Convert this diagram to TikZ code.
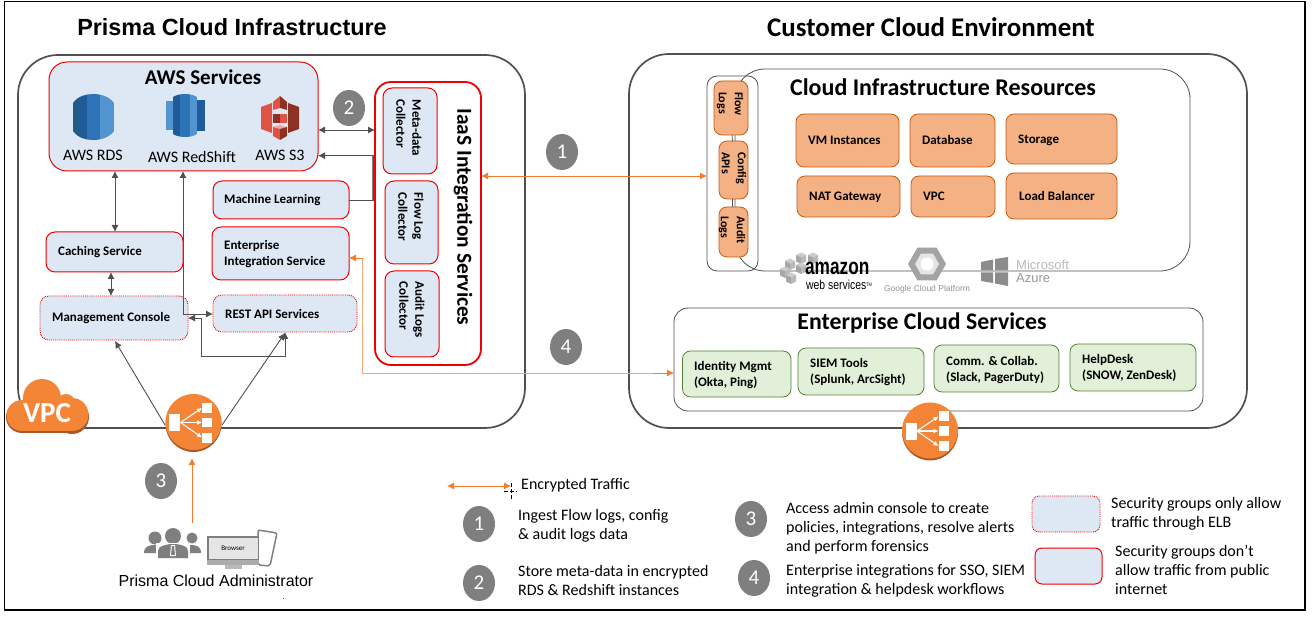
\documentclass[tikz,border=0pt]{standalone}
\usepackage{fontspec}
\setmainfont{Carlito}
\newfontfamily\arialf{Liberation Sans}
\usetikzlibrary{arrows.meta,calc,shapes.geometric}
\definecolor{bluefill}{HTML}{DEE8F4}
\definecolor{redline}{HTML}{F00000}
\definecolor{orfill}{HTML}{F4B183}
\definecolor{orline}{HTML}{C55A11}
\definecolor{grfill}{HTML}{E2EFD9}
\definecolor{grline}{HTML}{548235}
\definecolor{awsor}{HTML}{F58536}
\definecolor{awsdk}{HTML}{A9582A}
\definecolor{arrowor}{HTML}{F47B30}
\definecolor{arrowpale}{HTML}{F6A877}
\definecolor{darkln}{HTML}{505050}
\definecolor{badge}{HTML}{7F7F7F}
\definecolor{bluea}{HTML}{2E73B8}
\definecolor{blueb}{HTML}{1F5B98}
\definecolor{bluec}{HTML}{5294CF}
\definecolor{blued}{HTML}{205B87}
\definecolor{sreda}{HTML}{E05243}
\definecolor{sredb}{HTML}{8C3123}
\definecolor{logogray}{HTML}{8C8C8C}
\tikzset{
 panel/.style={draw=darkln,line width=1.7pt,rounded corners=40,fill=white},
 subpanel/.style={draw=darkln,line width=.8pt},
 svcsolid/.style={draw=redline,line width=1pt,fill=bluefill,rounded corners=9},
 svcdot/.style={draw=redline,line width=.9pt,densely dotted,fill=bluefill,rounded corners=9},
 orbox/.style={draw=orline,line width=.8pt,fill=orfill,rounded corners=8},
 grbox/.style={draw=grline,line width=.8pt,fill=grfill,rounded corners=8},
 lbl/.style={font=\fontsize{13}{16}\selectfont\bfseries,anchor=west,align=left,inner sep=0pt},
 rlbl/.style={font=\fontsize{13}{16}\selectfont\bfseries,align=left,inner sep=0pt,rotate=-90},
 rlbs/.style={font=\fontsize{12}{16}\selectfont\bfseries,align=left,inner sep=0pt,rotate=-90},
 legend/.style={font=\fontsize{16}{19}\selectfont,anchor=west,align=left,inner sep=0pt},
 numb/.style={ellipse,fill=badge,text=white,inner sep=0pt,minimum width=32pt,minimum height=36pt,font=\fontsize{21}{21}\selectfont},
 dk/.style={draw=darkln,line width=.9pt,-{Latex[length=7pt,width=7pt]}},
 dkb/.style={draw=darkln,line width=.9pt,{Latex[length=7pt,width=7pt]}-{Latex[length=7pt,width=7pt]}},
 ora/.style={draw=arrowor,line width=.9pt,{Latex[length=7pt,width=7pt]}-{Latex[length=7pt,width=7pt]}},
 orr/.style={draw=arrowor,line width=.9pt,-{Latex[length=7pt,width=7pt]}},
 elb/.pic={
  \fill[awsdk] (0,1.5) circle[radius=28];
  \fill[awsor] (0,-.5) circle[radius=28];
  \fill[white] (-24.5,-8) rectangle (-13.5,9);
  \fill[white] (8.5,-19.5) rectangle (18.5,-9.5);
  \fill[white] (8.5,-4.5) rectangle (18.5,5);
  \fill[white] (8.5,10.5) rectangle (18.5,20.5);
  \draw[white,line width=1.1pt,-{Latex[length=5pt,width=5pt]}] (-13,0)--(8.5,-14.5);
  \draw[white,line width=1.1pt,-{Latex[length=5pt,width=5pt]}] (-13,0)--(8.5,0);
  \draw[white,line width=1.1pt,-{Latex[length=5pt,width=5pt]}] (-13,0)--(8.5,15);
 },
 cube/.pic={
  \fill[gray!40] (-5,-3) -- (0,-5.5) -- (5,-3) -- (0,-.5) -- cycle;
  \fill[gray!70] (-5,-3) -- (0,-.5) -- (0,6) -- (-5,3.5) -- cycle;
  \fill[gray!55] (5,-3) -- (0,-.5) -- (0,6) -- (5,3.5) -- cycle;
 },
}
\newcommand{\bx}[7]{\node[#1,anchor=north west,inner sep=0pt,outer sep=0pt,minimum width={(#5-#3)*1pt},minimum height={(#6-#4)*1pt}] (#2) at (#3,#4) {#7};}
\begin{document}
\begin{tikzpicture}[x=1pt,y=-1pt]
\useasboundingbox (0,0) rectangle (1315,617);
\fill[white] (0,0) rectangle (1315,617);
\draw[black,line width=1.4pt] (4.5,1.5) rectangle (1305,610);
% titles
\node[font=\arialf\fontsize{23.4}{24}\selectfont\bfseries,inner sep=0pt] (t1) at (232,27) {Prisma Cloud Infrastructure};
\node[font=\fontsize{26.9}{27}\selectfont\bfseries,inner sep=0pt] (t2) at (931,27) {Customer Cloud Environment};
% panels
\bx{panel}{prisma}{18}{55}{525}{428}{}
\bx{panel}{cust}{629}{54}{1247}{428}{}
% AWS services
\bx{svcsolid,rounded corners=18}{aws}{49}{62}{318}{171}{}
\node[font=\fontsize{21}{21}\selectfont\bfseries,inner sep=0pt] (awst) at (203,77) {AWS Services};
% RDS icon
\begin{scope}
\clip (73,103) .. controls (78,96) and (86,94) .. (93,94) .. controls (100,94) and (109,96) .. (114,103) -- (114,131) .. controls (109,138) and (100,140) .. (93,140) .. controls (86,140) and (78,138) .. (73,131) -- cycle;
\fill[blued] (73,94) rectangle (79,140);
\fill[blueb] (79,94) rectangle (87,140);
\fill[bluea] (87,94) rectangle (100,140);
\fill[bluec] (100,94) rectangle (114,140);
\end{scope}
% RedShift icon
\fill[bluec] (166,101) rectangle (173,130);
\fill[blueb] (197,100) rectangle (205,131);
\begin{scope}
\clip (173,97) .. controls (179,93) and (191,93) .. (197,97) -- (197,134) .. controls (191,138) and (179,138) .. (173,134) -- cycle;
\fill[blueb] (173,93) rectangle (180,138);
\fill[bluea] (180,93) rectangle (190,138);
\fill[bluec] (190,93) rectangle (197,138);
\end{scope}
% S3 icon
\fill[sreda] (261,107) -- (272,103) -- (272,133) -- (261,129) -- cycle;
\fill[sredb] (299,107) -- (288,103) -- (288,133) -- (299,129) -- cycle;
\fill[sreda] (273,102) -- (280,96) -- (280,108) -- (273,110) -- cycle;
\fill[sredb] (287,102) -- (280,96) -- (280,108) -- (287,110) -- cycle;
\fill[sredb] (273,114) rectangle (280,123);
\fill[sreda] (280,114) rectangle (287,123);
\fill[sreda!50] (273,127) -- (280,125) -- (287,127) -- (280,129) -- cycle;
\fill[sreda] (273,127) -- (280,129) -- (280,140) -- (273,136) -- cycle;
\fill[sredb] (287,127) -- (280,129) -- (280,140) -- (287,136) -- cycle;
\node[font=\fontsize{16}{16}\selectfont,inner sep=0pt] (lrds) at (93,155) {AWS RDS};
\node[font=\fontsize{16}{16}\selectfont,inner sep=0pt] (lred) at (192,157) {AWS RedShift};
\node[font=\fontsize{16}{16}\selectfont,inner sep=0pt] (ls3) at (280,155) {AWS S3};
% IaaS
\bx{draw=redline,line width=1.8pt,fill=white,rounded corners=16}{iaas}{375}{82}{481}{365}{}
\node[font=\fontsize{21.4}{22}\selectfont\bfseries,rotate=-90,inner sep=0pt] (iaast) at (463,217) {IaaS Integration Services};
\bx{svcsolid}{meta}{383}{88}{437}{174}{}
\bx{svcsolid}{flow}{385}{181}{438}{264}{}
\bx{svcsolid}{audit}{385}{271}{439}{357}{}
\node[rlbl] (metat) at (409,128) {Meta-data\\Collector};
\node[rlbl] (flowt) at (411,217) {Flow Log\\Collector};
\node[rlbl] (auditt) at (412,310) {Audit Logs\\Collector};
% services
\bx{svcsolid}{ml}{213}{181}{349}{219}{}
\node[lbl] (mlt) at (224,200) {Machine Learning};
\bx{svcsolid}{eis}{212}{227}{349}{280}{}
\node[lbl] (eist) at (224,254.5) {Enterprise\\Integration Service};
\bx{svcsolid}{cache}{46}{232}{183}{272}{}
\node[lbl] (cachet) at (58,252) {Caching Service};
\bx{svcdot}{mgmt}{40}{296}{188}{340}{}
\node[lbl] (mgmtt) at (52,318) {Management Console};
\bx{svcdot}{rest}{213}{295}{357}{332}{}
\node[lbl] (restt) at (225,314) {REST API Services};
% helper coordinates
\coordinate (y130) at (0,130);
\coordinate (y156) at (0,155.7);
\coordinate (x373) at (373,0);
\coordinate (x115) at (115,0);
\coordinate (x111) at (111,0);
\coordinate (x183) at (183,0);
\coordinate (x201) at (201,0);
\coordinate (x285) at (285,0);
\coordinate (y356) at (0,356);
\coordinate (y176) at (0,176);
\coordinate (y373) at (0,373);
\coordinate (y258) at (0,258);
\coordinate (x362) at (362.5,0);
% connectors
\draw[dkb] (aws.east |- y130) -- (iaas.west |- y130);
\draw[gray,line width=1.6pt] (x373 |- ml.east) -- (x373 |- y156);
\draw[dk] (ml.east) -- (x373 |- ml.east) -- (x373 |- y156) -- (aws.east |- y156);
\draw[dkb] (x115 |- aws.south) -- (x115 |- cache.north);
\draw[dkb] (x111 |- cache.south) -- (x111 |- mgmt.north);
\draw[dkb] (x183 |- aws.south) -- (x183 |- restt.west) -- (rest.west |- restt.west);
\draw[dkb] (x285 |- rest.south) -- (x285 |- y356) -- (x201 |- y356) -- (x201 |- mgmt.east) -- (mgmt.east);
% cloud resources
\bx{subpanel,rounded corners=30,fill=white}{cir}{735}{69}{1190}{271}{}
\node[font=\fontsize{24}{24}\selectfont\bfseries,inner sep=0pt] (cirt) at (943,87) {Cloud Infrastructure Resources};
\bx{subpanel,rounded corners=10}{logbox}{707}{76}{758}{271}{}
\bx{orbox}{flowl}{714}{81}{748}{135}{}
\bx{orbox}{confl}{719}{141}{748}{199}{}
\bx{orbox}{auditl}{719}{207}{748}{257}{}
\draw[darkln,line width=.7pt] (flowl.south -| logbox.center) ++(-.5,0) -- (confl.north -| logbox.center);
\draw[darkln,line width=.7pt] (confl.south -| logbox.center) -- (auditl.north -| logbox.center);
\node[rlbs] (flowlt) at (730,104) {Flow\\Logs};
\node[rlbs] (conflt) at (734,168) {Config\\APIs};
\node[rlbs] (auditlt) at (732,230) {Audit\\Logs};
\bx{orbox}{vm}{796}{114}{899}{167}{}
\node[lbl] (vmt) at (808,140) {VM Instances};
\bx{orbox}{db}{910}{114}{995}{167}{}
\node[lbl] (dbt) at (922,140) {Database};
\bx{orbox}{sto}{1006}{114}{1117}{164}{}
\node[lbl] (stot) at (1018,140) {Storage};
\bx{orbox}{nat}{797}{176}{900}{217}{}
\node[lbl] (natt) at (809,197) {NAT Gateway};
\bx{orbox}{vpc}{911}{176}{995}{217}{}
\node[lbl] (vpct) at (923,196) {VPC};
\bx{orbox}{lbal}{1006}{173}{1117}{219}{}
\node[lbl] (lbalt) at (1019,196) {Load Balancer};
% logos
\pic at (801,258) {cube};
\pic at (813,258) {cube};
\pic at (790,264) {cube};
\pic at (801,268) {cube};
\pic at (785,272) {cube};
\pic at (791,278) {cube};
\node[font=\arialf\fontsize{23}{23}\selectfont\bfseries,xscale=.75,inner sep=0pt,anchor=west] (amz) at (805,268.5) {amazon};
\node[font=\arialf\fontsize{13}{13}\selectfont,xscale=.8,inner sep=0pt,anchor=west] (amzw) at (806,285) {web services\raisebox{3pt}{\fontsize{5}{5}\selectfont TM}};
\node[regular polygon,regular polygon sides=6,fill=logogray!80,minimum size=38pt,inner sep=0pt] (gcp) at (927,264) {};
\node[regular polygon,regular polygon sides=6,fill=gray!20,minimum size=24pt,inner sep=0pt] (gcpi) at (927,264) {};
\node[circle,fill=white,minimum size=13pt,inner sep=0pt] (gcpc) at (927,264) {};
\node[font=\arialf\fontsize{8.5}{9}\selectfont,text=gray!85,inner sep=0pt] (gcpt) at (927,289) {Google Cloud Platform};
\fill[logogray] (981,262) -- (993,259.5) -- (993,270.5) -- (981,270.5) -- cycle;
\fill[logogray] (995,259) -- (1008,257) -- (1008,270.5) -- (995,270.5) -- cycle;
\fill[logogray] (981,272.5) -- (993,272.5) -- (993,283) -- (981,281) -- cycle;
\fill[logogray] (995,272.5) -- (1008,272.5) -- (1008,286) -- (995,283.5) -- cycle;
\node[font=\arialf\fontsize{13}{13}\selectfont,text=gray!55,inner sep=0pt,anchor=west] (azm) at (1016,265) {Microsoft};
\node[font=\arialf\fontsize{13}{13}\selectfont,text=gray!80,inner sep=0pt,anchor=west] (aza) at (1016,278) {Azure};
% enterprise cloud
\bx{subpanel,rounded corners=14,fill=white}{ent}{674}{308}{1203}{411}{}
\node[font=\fontsize{23.8}{24}\selectfont\bfseries,inner sep=0pt] (entt) at (922,323) {Enterprise Cloud Services};
\bx{grbox}{idm}{682.5}{351}{791}{397}{}
\node[lbl] (idmt) at (694,375) {Identity Mgmt\\(Okta, Ping)};
\bx{grbox}{siem}{798}{348}{924}{395}{}
\node[lbl] (siemt) at (810,372) {SIEM Tools\\(Splunk, ArcSight)};
\bx{grbox}{comm}{934}{345}{1059}{392}{}
\node[lbl] (commt) at (946,370) {Comm. \& Collab.\\(Slack, PagerDuty)};
\bx{grbox}{help}{1070}{344}{1196}{391}{}
\node[lbl] (helpt) at (1082,368) {HelpDesk\\(SNOW, ZenDesk)};
% orange connectors
\draw[ora] (iaas.east |- y176) -- (logbox.west |- y176);
\draw[draw=arrowpale,line width=.9pt] (ent.west |- y373) -- (x362 |- y373) -- (x362 |- y258) -- (eis.east |- y258);
\draw[orr] (x362 |- y373) ++(290,0) -- (ent.west |- y373);
\draw[orr] (x362 |- y258) -- (eis.east |- y258);
% ELBs
\pic (elba) at (193.5,422.5) {elb};
\pic (elbb) at (930,431) {elb};
\coordinate (elbl) at (165,425);
\coordinate (elbr) at (222,425);
\coordinate (elbt) at (192,458);
\coordinate (admt) at (192,523);
\coordinate (mgmta) at (115,341);
\coordinate (resta) at (285,333);
\draw[dk] (elbl) -- (mgmta);
\draw[dk] (elbr) -- (resta);
\draw[orr] (admt) -- (elbt);
% VPC cloud
\foreach \c/\r in {22/16,72/17}{\fill[awsdk] (\c,417) circle[radius=\r];}
\fill[awsdk] (22,415) rectangle (72,433);
\fill[awsor] (22,415.5) circle[radius=15.5];
\fill[awsor] (42,398) circle[radius=19];
\fill[awsor] (66,403) circle[radius=9];
\fill[awsor] (72,414.5) circle[radius=16.5];
\fill[awsor] (22,405) rectangle (72,431);
\node[font=\fontsize{29}{29}\selectfont\bfseries,text=white,inner sep=0pt] (vpcl) at (47,413) {VPC};
% badges
\node[numb] (b1) at (562,152) {1};
\node[numb] (b2) at (349,108) {2};
\node[numb] (b3) at (161,481) {3};
\node[numb] (b4) at (566,347) {4};
% administrator
\fill[badge] (155,538) circle[radius=6.5];
\fill[badge] (192,538) circle[radius=5.5];
\fill[badge] (144,553) .. controls (144,546) and (150,545) .. (155,545) -- (162,545) -- (162,553) -- cycle;
\fill[badge] (201,553) .. controls (201,546) and (196,545) .. (190,545) -- (184,545) -- (184,553) -- cycle;
\fill[white] (173,536) circle[radius=9.5];
\fill[badge] (173,536) circle[radius=8];
\fill[white] (156,543) rectangle (190,559);
\fill[badge] (158,558) -- (158,551) .. controls (158,546) and (165,545) .. (170,544) -- (176,544) .. controls (182,545) and (188,546) .. (188,551) -- (188,558) -- cycle;
\fill[white] (171,545) -- (175,545) -- (176,556) -- (170,556) -- cycle;
\fill[badge] (172,546) -- (174,546) -- (175,555) -- (171,555) -- cycle;
\filldraw[fill=white,draw=gray,line width=1.5pt,rounded corners=2] (258,530) -- (277,533) -- (270,566) -- (258,565) -- cycle;
\fill[gray!55] (225,564) rectangle (242,569);
\fill[badge] (207,536) rectangle (259,565);
\fill[gray!20] (208.5,538) rectangle (257.5,559);
\fill[gray!65] (207,560) rectangle (259,565);
\node[font=\fontsize{7}{7}\selectfont,inner sep=0pt] (brow) at (233,548) {Browser};
\node[font=\arialf\fontsize{16}{16}\selectfont,inner sep=0pt] (admn) at (216,581) {Prisma Cloud Administrator};
\fill[black!70] (282.5,597.5) rectangle (284,599);
% legend
\coordinate (la) at (447,486);
\coordinate (lb) at (511,486);
\draw[ora] (la) -- (lb);
\node[legend,font=\fontsize{16}{16}\selectfont] (enct) at (521,485) {Encrypted Traffic};
\draw[black,line width=.5pt,dash pattern=on 4pt off 2pt] (504,491) -- (517,491) (511,483) -- (511,500);
\node[numb] (l1) at (479,524) {1};
\node[numb] (l2) at (479,583) {2};
\node[numb] (l3) at (751,519) {3};
\node[numb] (l4) at (754,578) {4};
\node[legend] (l1t) at (518,526) {Ingest Flow logs, config\\\& audit logs data};
\node[legend] (l2t) at (518,581) {Store meta-data in encrypted\\RDS \& Redshift instances};
\node[legend] (l3t) at (786,528) {Access admin console to create\\policies, integrations, resolve alerts\\and perform forensics};
\node[legend] (l4t) at (786,581) {Enterprise integrations for SSO, SIEM\\integration \& helpdesk workflows};
\bx{svcdot,rounded corners=7}{k1}{1032}{496}{1100}{532}{}
\bx{svcsolid,rounded corners=7}{k2}{1035}{548}{1102}{584}{}
\node[legend] (k1t) at (1111,514) {Security groups only allow\\traffic through ELB};
\node[legend] (k2t) at (1115,570) {Security groups don’t\\allow traffic from public\\internet};
\end{tikzpicture}
\end{document}
